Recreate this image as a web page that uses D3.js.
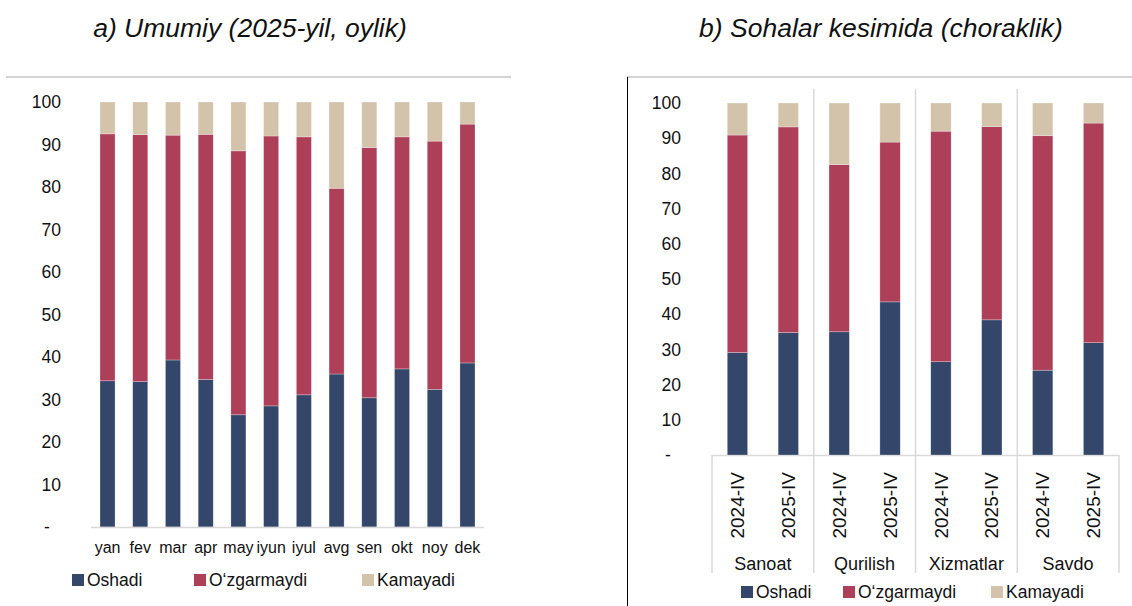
<!DOCTYPE html>
<html>
<head>
<meta charset="utf-8">
<script src="https://cdn.jsdelivr.net/npm/d3@7"></script>
<style>
  body { margin: 0; background: #fff; }
  text { font-family: "Liberation Sans", Arial, sans-serif; fill: #111; }
</style>
</head>
<body>
<svg id="chart" width="1132" height="606"></svg>
<script>
// --- data ---
const SERIES = ["Oshadi", "O\u2018zgarmaydi", "Kamayadi"];
const COLORS = ["#34476b", "#ae3f58", "#d3c3ab"];

const months = ["yan", "fev", "mar", "apr", "may", "iyun", "iyul", "avg", "sen", "okt", "noy", "dek"];
const monthOshadi      = [34.4, 34.2, 39.3, 34.7, 26.4, 28.5, 31.1, 36.0, 30.4, 37.2, 32.4, 38.6];
const monthOzgarmaydi  = [58.1, 58.1, 52.9, 57.7, 62.1, 63.5, 60.7, 43.7, 58.9, 54.6, 58.4, 56.2];
const monthKamayadi    = [7.5, 7.7, 7.8, 7.6, 11.5, 8.0, 8.2, 20.3, 10.7, 8.2, 9.2, 5.2];

const sectors = ["Sanoat", "Qurilish", "Xizmatlar", "Savdo"];
const periods = ["2024-IV", "2025-IV"];
// order: Sanoat 24, 25, Qurilish 24, 25, Xizmatlar 24, 25, Savdo 24, 25
const sectorOshadi     = [29.1, 34.8, 35.0, 43.5, 26.5, 38.4, 24.1, 31.9];
const sectorOzgarmaydi = [61.8, 58.4, 47.5, 45.4, 65.5, 54.9, 66.6, 62.4];
const sectorKamayadi   = [9.1, 6.8, 17.5, 11.1, 8.0, 6.7, 9.3, 5.7];

const yTicks = [0, 10, 20, 30, 40, 50, 60, 70, 80, 90, 100];

const svg = d3.select("#chart");
const stack = d3.stack().keys(SERIES);

function drawBars(rows, x, y) {
  const layers = stack(rows);
  svg.append("g")
    .selectAll("g")
    .data(layers)
    .join("g")
    .attr("fill", (d, i) => COLORS[i])
    .selectAll("rect")
    .data(d => d)
    .join("rect")
    .attr("x", d => x(d.data.key))
    .attr("width", x.bandwidth())
    .attr("y", d => y(d[1]))
    .attr("height", d => y(d[0]) - y(d[1]))
    .attr("stroke", "rgba(255,255,255,0.45)")
    .attr("stroke-width", 0.6);
}

function drawYAxis(y, labelX, dashX) {
  const g = svg.append("g");
  g.selectAll("text")
    .data(yTicks)
    .join("text")
    .attr("x", d => d === 0 ? dashX : labelX)
    .attr("y", d => y(d))
    .attr("dy", "0.35em")
    .attr("text-anchor", d => d === 0 ? "middle" : "end")
    .style("font-size", "17.5px")
    .text(d => d === 0 ? "-" : d);
}

function drawLegend(xs, cy) {
  const g = svg.append("g");
  SERIES.forEach((s, i) => {
    g.append("rect")
      .attr("x", xs[i]).attr("y", cy - 6)
      .attr("width", 12).attr("height", 12)
      .attr("fill", COLORS[i]);
    g.append("text")
      .attr("x", xs[i] + 15).attr("y", cy)
      .attr("dy", "0.35em")
      .style("font-size", "17.5px")
      .text(s);
  });
}

// ---------- a) monthly ----------
const rowsA = months.map((m, i) => ({
  key: m,
  [SERIES[0]]: monthOshadi[i],
  [SERIES[1]]: monthOzgarmaydi[i],
  [SERIES[2]]: monthKamayadi[i]
}));

const xA = d3.scaleBand().domain(months).range([91, 484]).paddingInner(0.54).paddingOuter(0.275);
const yA = d3.scaleLinear().domain([0, 100]).range([527, 102]);

svg.append("line")
  .attr("x1", 6).attr("x2", 511).attr("y1", 77).attr("y2", 77)
  .attr("stroke", "#a6a6a6").attr("stroke-width", 1);

svg.append("text")
  .attr("x", 250).attr("y", 37)
  .attr("text-anchor", "middle")
  .style("font-size", "26.5px").style("font-style", "italic")
  .text("a) Umumiy (2025-yil, oylik)");

drawBars(rowsA, xA, yA);

svg.append("line")
  .attr("x1", 91).attr("x2", 484).attr("y1", yA(0) + 0.5).attr("y2", yA(0) + 0.5)
  .attr("stroke", "#d9d9d9").attr("stroke-width", 1.5);

drawYAxis(yA, 61, 47);

svg.append("g")
  .selectAll("text")
  .data(months)
  .join("text")
  .attr("x", d => xA(d) + xA.bandwidth() / 2)
  .attr("y", 547)
  .attr("dy", "0.35em")
  .attr("text-anchor", "middle")
  .style("font-size", "16px")
  .text(d => d);

drawLegend([72, 194, 362], 580);

// ---------- b) by sector ----------
const keysB = [];
sectors.forEach(s => periods.forEach(p => keysB.push(s + "|" + p)));
const rowsB = keysB.map((k, i) => ({
  key: k,
  [SERIES[0]]: sectorOshadi[i],
  [SERIES[1]]: sectorOzgarmaydi[i],
  [SERIES[2]]: sectorKamayadi[i]
}));

const xB = d3.scaleBand().domain(keysB).range([712, 1119]).paddingInner(0.6).paddingOuter(0.3);
const yB = d3.scaleLinear().domain([0, 100]).range([455, 103]);
const groupW = xB.step() * periods.length;
const groupX = i => 712 + i * groupW;

svg.append("line")
  .attr("x1", 627).attr("x2", 1132).attr("y1", 77).attr("y2", 77)
  .attr("stroke", "#a6a6a6").attr("stroke-width", 1);
svg.append("line")
  .attr("x1", 627.5).attr("x2", 627.5).attr("y1", 77).attr("y2", 606)
  .attr("stroke", "#000").attr("stroke-width", 1);

svg.append("text")
  .attr("x", 881).attr("y", 37)
  .attr("text-anchor", "middle")
  .style("font-size", "26.5px").style("font-style", "italic")
  .text("b) Sohalar kesimida (choraklik)");

// separators between sectors
const sep = svg.append("g").attr("stroke", "#d9d9d9").attr("stroke-width", 1.5);
d3.range(1, sectors.length).forEach(i => {
  sep.append("line")
    .attr("x1", groupX(i)).attr("x2", groupX(i))
    .attr("y1", 89).attr("y2", 573);
});
[0, sectors.length].forEach(i => {
  sep.append("line")
    .attr("x1", groupX(i)).attr("x2", groupX(i))
    .attr("y1", yB(0)).attr("y2", 573);
});
sep.append("line")
  .attr("x1", 712).attr("x2", 1119)
  .attr("y1", yB(0) + 0.5).attr("y2", yB(0) + 0.5);

drawBars(rowsB, xB, yB);
drawYAxis(yB, 681, 668);

svg.append("g")
  .selectAll("text")
  .data(keysB)
  .join("text")
  .attr("transform", d => `translate(${xB(d) + xB.bandwidth() / 2},472) rotate(-90)`)
  .attr("dy", "0.35em")
  .attr("text-anchor", "end")
  .style("font-size", "19px")
  .text(d => d.split("|")[1]);

svg.append("g")
  .selectAll("text")
  .data(sectors)
  .join("text")
  .attr("x", (d, i) => groupX(i) + groupW / 2)
  .attr("y", 564)
  .attr("dy", "0.35em")
  .attr("text-anchor", "middle")
  .style("font-size", "18px")
  .text(d => d);

drawLegend([741, 843, 991], 592);
</script>
</body>
</html>
